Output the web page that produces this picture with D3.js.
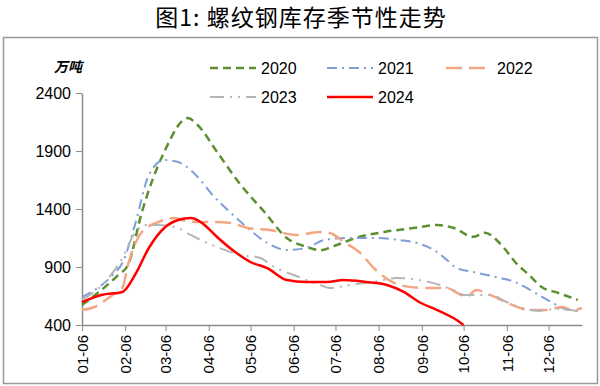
<!DOCTYPE html>
<html>
<head>
<meta charset="utf-8">
<script src="https://cdn.jsdelivr.net/npm/d3@7"></script>
<style>
  body { margin: 0; background: #fff; }
  svg { display: block; font-family: "Liberation Sans", Arial, sans-serif; }
</style>
</head>
<body>
<div id="chart"></div>
<script>
// 螺纹钢库存 (万吨)
const series2020 = [["01-06",572],["02-01",831],["02-08",917],["02-18",1374],["03-05",1891],["03-22",2184],["03-29",2124],["04-12",1891],["04-29",1607],["05-16",1374],["06-01",1150],["06-15",1075],["06-25",1045],["07-07",1090],["07-23",1159],["08-10",1202],["08-31",1236],["09-17",1262],["09-29",1236],["10-13",1160],["10-21",1195],["11-04",1064],["11-12",943],["11-22",831],["12-01",728],["12-13",676],["12-27",616]];
const series2021 = [["01-06",641],["01-28",831],["02-04",934],["02-13",1262],["02-23",1693],["03-05",1822],["03-15",1805],["03-24",1736],["04-03",1607],["04-07",1546],["04-22",1365],["05-04",1236],["05-18",1107],["06-01",1047],["06-15",1064],["06-28",1133],["07-14",1150],["08-04",1150],["08-21",1133],["09-07",1090],["09-17",1029],["09-24",960],["10-01",891],["10-13",857],["10-23",831],["11-01",805],["11-12",771],["11-19",728],["11-29",659],["12-09",590],["12-16",547],["12-27",520]];
const series2022 = [["01-06",529],["01-15",555],["01-28",659],["02-04",719],["02-08",917],["02-18",1202],["03-01",1288],["03-12",1322],["03-24",1288],["04-10",1288],["04-22",1279],["05-04",1236],["05-20",1219],["06-08",1176],["06-25",1202],["07-02",1193],["07-12",1116],["07-23",1029],["08-04",874],["08-21",745],["09-07",719],["09-24",719],["10-01",680],["10-08",641],["10-15",702],["10-25",659],["11-10",572],["11-22",529],["12-04",529],["12-16",555],["12-23",529],["12-30",547]];
const series2023 = [["01-06",616],["01-25",805],["02-04",977],["02-12",1176],["02-20",1262],["03-01",1262],["03-15",1236],["03-24",1176],["04-05",1107],["04-12",1072],["04-29",1003],["05-13",977],["05-23",900],["06-06",831],["06-25",745],["07-02",719],["07-16",745],["08-02",771],["08-19",805],["09-04",788],["09-19",745],["10-01",685],["10-06",659],["10-25",659],["11-06",598],["11-17",547],["11-29",521],["12-11",538],["12-27",521]];
const series2024 = [["01-06",598],["01-20",659],["02-04",685],["02-13",831],["02-23",1064],["03-05",1236],["03-15",1305],["03-24",1322],["03-29",1305],["04-03",1262],["04-12",1159],["04-25",1029],["05-06",943],["05-18",891],["06-01",788],["06-15",771],["06-30",771],["07-12",788],["07-28",771],["08-12",745],["08-24",685],["09-04",598],["09-17",529],["10-01",443],["10-06",400]];

const yTicks = [400, 900, 1400, 1900, 2400];
const xTickLabels = ["01-06","02-06","03-06","04-06","05-06","06-06","07-06","08-06","09-06","10-06","11-06","12-06"];

const seriesList = [
  { name: "2020", data: series2020, color: "#5b8f2f", dash: "8,5", width: 2.5 },
  { name: "2021", data: series2021, color: "#7f9ed6", dash: "10,5,2,5", width: 2 },
  { name: "2022", data: series2022, color: "#f4a583", dash: "16,7", width: 2.5 },
  { name: "2023", data: series2023, color: "#b5b5b5", dash: "14,6,2,6,2,6", width: 2 },
  { name: "2024", data: series2024, color: "#ff0000", dash: null, width: 2.5 }
];

const W = 600, H = 386;
const parseDay = d3.timeParse("%Y-%m-%d");
const toDate = s => parseDay("2024-" + s);

const svg = d3.select("#chart").append("svg")
  .attr("width", W)
  .attr("height", H);

// title
svg.append("text")
  .attr("x", 301)
  .attr("y", 26)
  .attr("text-anchor", "middle")
  .style("font-family", '"Noto Sans CJK SC", sans-serif')
  .style("font-size", "23px")
  .style("letter-spacing", "1px")
  .text("图1: 螺纹钢库存季节性走势");

// frame
svg.append("rect")
  .attr("x", 3.5)
  .attr("y", 37.5)
  .attr("width", 594)
  .attr("height", 346)
  .attr("fill", "none")
  .attr("stroke", "#9a9a9a")
  .attr("stroke-width", 1.5);

const xScale = d3.scaleTime()
  .domain([toDate("01-06"), toDate("12-30")])
  .range([82, 582]);

const yScale = d3.scaleLinear()
  .domain([400, 2400])
  .range([325, 93]);

// axes
const xAxis = svg.append("g")
  .attr("transform", "translate(0,325)")
  .call(d3.axisBottom(xScale)
    .tickValues(xTickLabels.map(toDate))
    .tickFormat(d3.timeFormat("%m-%d"))
    .tickSize(6)
    .tickSizeOuter(0));
xAxis.select(".domain").attr("stroke", "#8c8c8c").attr("stroke-width", 1.5);
xAxis.selectAll(".tick line").attr("stroke", "#8c8c8c");
xAxis.selectAll(".tick text")
  .attr("transform", "rotate(-90)")
  .attr("text-anchor", "end")
  .attr("x", -10)
  .attr("y", 0)
  .attr("dy", "0.35em")
  .style("font-size", "15px")
  .style("font-family", '"Liberation Sans", Arial, sans-serif')
  .attr("fill", "#000");

const yAxis = svg.append("g")
  .attr("transform", "translate(82,0)")
  .call(d3.axisLeft(yScale)
    .tickValues(yTicks)
    .tickFormat(d3.format("d"))
    .tickSize(6)
    .tickSizeOuter(0));
yAxis.select(".domain").attr("stroke", "#8c8c8c").attr("stroke-width", 1.5);
yAxis.selectAll(".tick line").attr("stroke", "#8c8c8c");
yAxis.selectAll(".tick text")
  .attr("x", -11)
  .style("font-size", "16px")
  .style("font-family", '"Liberation Sans", Arial, sans-serif')
  .attr("fill", "#000");

// unit label
svg.append("text")
  .attr("x", 68)
  .attr("y", 72)
  .attr("text-anchor", "middle")
  .style("font-family", '"Noto Sans CJK SC", sans-serif')
  .style("font-size", "14px")
  .style("font-weight", 700)
  .style("font-style", "italic")
  .text("万吨");

// lines
const line = d3.line()
  .x(d => xScale(toDate(d[0])))
  .y(d => yScale(d[1]))
  .curve(d3.curveMonotoneX);

svg.append("g")
  .selectAll("path")
  .data(seriesList)
  .join("path")
  .attr("d", d => line(d.data))
  .attr("fill", "none")
  .attr("stroke", d => d.color)
  .attr("stroke-width", d => d.width)
  .attr("stroke-dasharray", d => d.dash);

// legend
const legendPos = [
  { x: 210, y: 68 }, { x: 327, y: 68 }, { x: 446, y: 68 },
  { x: 210, y: 97 }, { x: 327, y: 97 }
];
const legend = svg.append("g")
  .selectAll("g")
  .data(seriesList)
  .join("g")
  .attr("transform", (d, i) => `translate(${legendPos[i].x},${legendPos[i].y})`);

legend.append("line")
  .attr("x1", 0)
  .attr("x2", 46)
  .attr("stroke", d => d.color)
  .attr("stroke-width", d => d.width)
  .attr("stroke-dasharray", d => d.dash);

legend.append("text")
  .attr("x", 51)
  .attr("dy", "0.35em")
  .style("font-size", "16px")
  .text(d => d.name);
</script>
</body>
</html>
